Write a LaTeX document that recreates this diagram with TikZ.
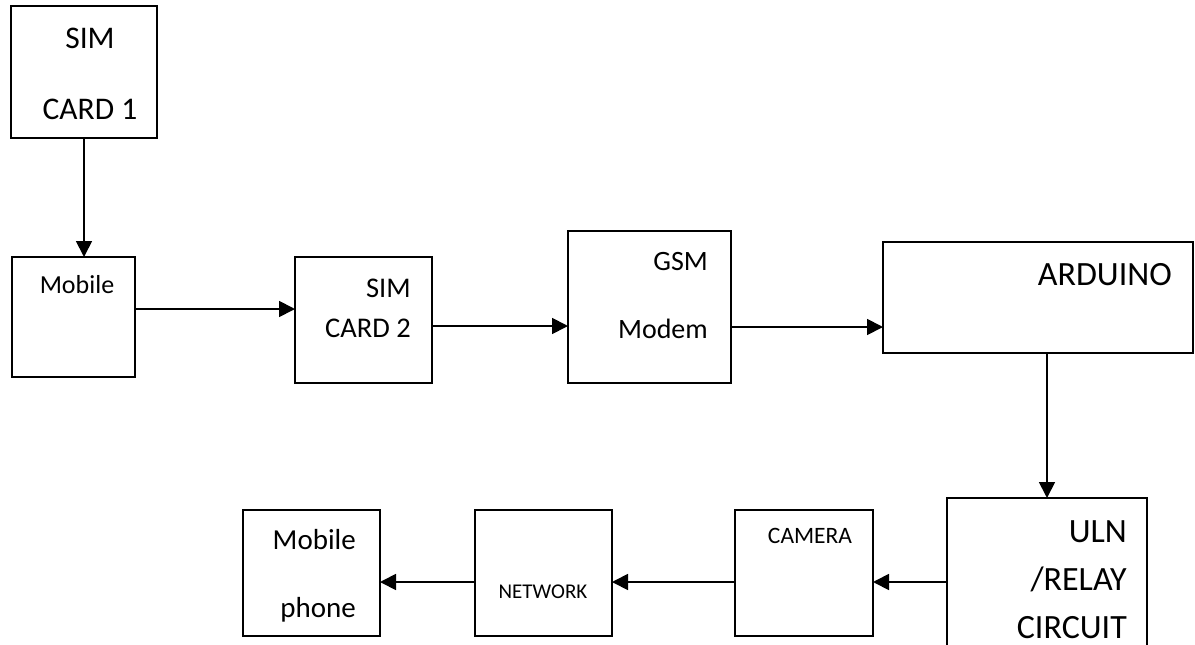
\documentclass[tikz,border=0pt]{standalone}
\usepackage{fontspec}
\setmainfont{Carlito}
\usetikzlibrary{positioning, arrows.meta}
\tikzset{
    block/.style = {draw, line width = 1.8pt, inner sep = 0pt, outer sep = 0pt, anchor = north west},
    lower/.style = {draw, line width = 1.8pt, inner sep = 0pt, outer sep = 0pt, minimum width = 137pt, minimum height = 126pt},
    caption/.style = {inner sep = 0pt, align = right},
    tip/.style = {line width = 1.8pt, -{Triangle[width = 16pt, length = 16pt]}}
}
\newcommand{\sz}[2]{\fontsize{#1}{#2}\selectfont}

\begin{document}
\begin{tikzpicture}
        [
            x = 1pt, y = -1pt
        ]
        \useasboundingbox (0,0) rectangle (1195,645);
        % upper row
        \node[block, minimum width = 146pt, minimum height = 132pt] (sim1)    at (11,6)    {};
        \node[block, minimum width = 123pt, minimum height = 120pt] (mobile)  at (12,257)  {};
        \node[block, minimum width = 137pt, minimum height = 126pt] (sim2)    at (295,257) {};
        \node[block, minimum width = 163pt, minimum height = 152pt] (gsm)     at (568,231) {};
        \node[block, minimum width = 310pt, minimum height = 111pt] (arduino) at (883,242) {};
        % lower row
        \node[block, minimum width = 200pt, minimum height = 168pt] (relay)   at (947,498) {};
        \node[lower, minimum width = 138pt, anchor = north west]     (camera)  at (735,510) {};
        \node[lower, left = 123pt of camera]                        (network) {};
        \node[lower, left = 95pt of network]                        (phone)   {};
        % texts (base = last line)
        \node[caption, align = center, anchor = base, font = \sz{31.5}{71}] (sim1text)    at (90,119)   {SIM\\CARD 1};
        \node[caption, anchor = base, font = \sz{26}{30}]                   (mobiletext)  at (77,293)   {Mobile};
        \node[caption, anchor = base east, font = \sz{28.5}{40}]            (sim2text)    at (411,337)  {SIM\\CARD 2};
        \node[caption, anchor = base east, font = \sz{28}{68}]              (gsmtext)     at (708,338)  {GSM\\Modem};
        \node[caption, anchor = base east, font = \sz{34}{40}]              (arduinotext) at (1172,285) {ARDUINO};
        \node[caption, anchor = base east, font = \sz{34}{48}]              (relaytext)   at (1127,638) {ULN\\/RELAY\\CIRCUIT};
        \node[caption, anchor = base, font = \sz{23.5}{28}]                 (cameratext)  at (810,543)  {CAMERA};
        \node[caption, anchor = base, font = \sz{21}{25}]                   (networktext) at (543,598)  {NETWORK};
        \node[caption, anchor = base east, font = \sz{29}{68}]              (phonetext)   at (356,617)  {Mobile\\phone};
        % arrows
        \draw[tip]  (sim1.south) -- (sim1.south |- mobile.north);
        \draw[tip]  ([yshift = 8pt]mobile.east)    -- ([yshift = 11pt]sim2.west);
        \draw[tip]  ([yshift = -6pt]sim2.east)     -- ([yshift = -19pt]gsm.west);
        \draw[tip]  ([yshift = -20pt]gsm.east)     -- ([yshift = -29.5pt]arduino.west);
        \draw[tip]  (relay.north |- arduino.south) -- (relay.north);
        \draw[tip]  ([yshift = -9pt]relay.north west |- camera.east) -- ([yshift = -9pt]camera.east);
        \draw[tip]  ([yshift = -9pt]camera.west)   -- ([yshift = -9pt]network.east);
        \draw[tip]  ([yshift = -9pt]network.west)  -- ([yshift = -9pt]phone.east);
    \end{tikzpicture}
\end{document}
